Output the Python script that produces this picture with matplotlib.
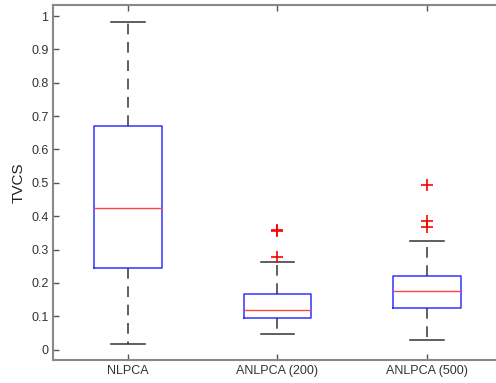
import matplotlib
matplotlib.use('Agg')
import matplotlib.pyplot as plt

plt.rcParams['font.family'] = ['Liberation Sans', 'DejaVu Sans']

labels = ['NLPCA', 'ANLPCA (200)', 'ANLPCA (500)']
whislo = [0.017, 0.046, 0.029]
q1 = [0.246, 0.094, 0.125]
med = [0.426, 0.118, 0.175]
q3 = [0.670, 0.166, 0.220]
whishi = [0.982, 0.263, 0.325]
fliers = [[], [0.279, 0.357, 0.360], [0.368, 0.386, 0.495]]

stats = []
for i in range(len(labels)):
    stats.append(dict(label=labels[i], whislo=whislo[i], q1=q1[i], med=med[i],
                      q3=q3[i], whishi=whishi[i], fliers=fliers[i]))

fig = plt.figure(figsize=(4.96, 3.83), dpi=100)
# right edge of the axes runs past the picture, as in the cropped original
ax = fig.add_axes([53.25 / 496, 1 - 360 / 383, 448.5 / 496, 355 / 383])

ax.bxp(stats, positions=[1, 2, 3], widths=0.45, showfliers=True,
       boxprops=dict(color='#3333ff', linewidth=1.1),
       medianprops=dict(color='#ff4444', linewidth=1.0),
       whiskerprops=dict(color='#333333', linewidth=1.1, linestyle=(0, (7, 5))),
       capprops=dict(color='#333333', linewidth=1.1),
       flierprops=dict(marker='+', markeredgecolor='red', markersize=8, markeredgewidth=1.2))

ax.set_xlim(0.5, 3.5)
ax.set_ylim(-0.031, 1.033)
ax.set_yticks([0, 0.1, 0.2, 0.3, 0.4, 0.5, 0.6, 0.7, 0.8, 0.9, 1])
ax.set_yticklabels(['0', '0.1', '0.2', '0.3', '0.4', '0.5', '0.6', '0.7', '0.8', '0.9', '1'])
ax.set_ylabel('TVCS', fontsize=11, color='#222222')
ax.tick_params(direction='in', length=4, width=1, colors='#555555', labelcolor='#333333',
               labelsize=9, top=True, right=True)
for s in ax.spines.values():
    s.set_color('#888888')
    s.set_linewidth(1.5)

fig.savefig('out.png', dpi=100)
